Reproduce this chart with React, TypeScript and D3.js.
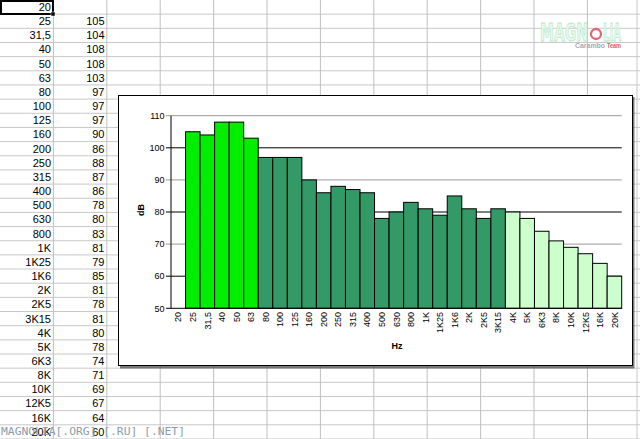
import React from "react";
import * as d3 from "d3";

const categories = ["20","25","31,5","40","50","63","80","100","125","160","200","250","315","400","500","630","800","1K","1K25","1K6","2K","2K5","3K15","4K","5K","6K3","8K","10K","12K5","16K","20K"];
const values: (number | null)[] = [null,105,104,108,108,103,97,97,97,90,86,88,87,86,78,80,83,81,79,85,81,78,81,80,78,74,71,69,67,64,60];
const groupOf = ["none","low","low","low","low","low","mid","mid","mid","mid","mid","mid","mid","mid","mid","mid","mid","mid","mid","mid","mid","mid","mid","high","high","high","high","high","high","high","high"];
const yTicks = [50,60,70,80,90,100,110];

const colors: Record<string, string> = { none: "#fff", low: "#00ee00", mid: "#339966", high: "#ccffcc" };

const W = 640, H = 439;
const rowH = 14.16;
const colW = 53.4;

export default function App() {
  const x = d3.scaleBand<string>().domain(categories).range([171, 621.7]).padding(0);
  const y = d3.scaleLinear().domain([50, 110]).range([308.3, 115.7]);
  const font = "Arial, 'Liberation Sans', sans-serif";

  const rowLines = d3.range(1, 32).map((k) => k * rowH);
  const colLines = d3.range(1, 12).map((k) => k * colW);

  return (
    <svg width={W} height={H} style={{ position: "absolute", left: 0, top: 0, background: "#fff" }} fontFamily={font}>
      <rect x={0} y={0} width={W} height={H} fill="#fff" />
      {/* spreadsheet grid */}
      {rowLines.map((ry, i) => (
        <line key={"r" + i} x1={0} x2={W} y1={ry} y2={ry} stroke="#c8c8c8" strokeWidth={1} />
      ))}
      {colLines.map((cx, i) => (
        <line key={"c" + i} x1={cx} x2={cx} y1={0} y2={H} stroke="#c0c0c0" strokeWidth={1} />
      ))}
      <line x1={637} x2={637} y1={0} y2={H} stroke="#c8c8c8" />
      {/* cell text */}
      {categories.map((c, i) => (
        <text key={"a" + i} x={51} y={i * rowH + 11} textAnchor="end" fontSize={11} fill="#000">{c}</text>
      ))}
      {values.map((v, i) => v == null ? null : (
        <text key={"b" + i} x={104.5} y={i * rowH + 11} textAnchor="end" fontSize={11} fill="#000">{v}</text>
      ))}
      {/* selected cell */}
      <rect x={1} y={1} width={52} height={13} fill="none" stroke="#000" strokeWidth={2} />
      <rect x={51} y={12} width={4} height={4} fill="#000" stroke="#fff" strokeWidth={0.5} />

      {/* logo */}
      <g>
        <text x={540} y={41} fontSize={24} fontWeight="bold" fill="#e6f8ec" stroke="#b8e8c8" strokeWidth={0.8} textLength={48} lengthAdjust="spacingAndGlyphs" fontFamily="'DejaVu Sans Condensed', Arial, sans-serif">MAGN</text>
        <circle cx={596} cy={34} r={5} fill="none" stroke="#e06878" strokeWidth={2.3} />
        <text x={603} y={41} fontSize={24} fontWeight="bold" fill="#e6f8ec" stroke="#b8e8c8" strokeWidth={0.8} textLength={18} lengthAdjust="spacingAndGlyphs" fontFamily="'DejaVu Sans Condensed', Arial, sans-serif">LIA</text>
        <text x={575} y={47.5} fontSize={7.5} fontWeight="bold" fill="#a8a8b4" textLength={30} lengthAdjust="spacingAndGlyphs">Carambo</text>
        <text x={607} y={47.5} fontSize={7.5} fontWeight="bold" fill="#e45868" textLength={14} lengthAdjust="spacingAndGlyphs">Team</text>
      </g>

      {/* chart box */}
      <rect x={120} y={97} width={514.5} height={271.5} fill="#444" opacity={0.7} />
      <rect x={118.5} y={95.5} width={514} height={270} fill="#fff" stroke="#000" strokeWidth={1} />

      {/* gridlines */}
      {yTicks.filter((t) => t > 50).map((t) => (
        <line key={"g" + t} x1={166} x2={621.7} y1={y(t)} y2={y(t)} stroke={t % 20 === 0 ? "#000" : "#999"} strokeWidth={1} />
      ))}
      {/* bars */}
      {categories.map((c, i) => {
        const v = values[i];
        if (v == null) return null;
        return (
          <rect key={"bar" + i} x={x(c)!} y={y(v)} width={x.bandwidth()} height={y(50) - y(v)} fill={colors[groupOf[i]]} stroke="#000" strokeWidth={1} />
        );
      })}
      {/* axes */}
      <line x1={171} x2={171} y1={y(110)} y2={y(50)} stroke="#000" />
      <line x1={166} x2={621.7} y1={y(50)} y2={y(50)} stroke="#000" />
      {yTicks.map((t) => (
        <text key={"yt" + t} x={164.5} y={y(t) + 3.2} textAnchor="end" fontSize={9} fill="#000">{t}</text>
      ))}
      {categories.map((c) => (
        <text key={"xt" + c} transform={`translate(${x(c)! + x.bandwidth() / 2 + 3.2},${312}) rotate(-90)`} textAnchor="end" fontSize={9} fill="#000">{c}</text>
      ))}
      <text transform="translate(143.5,210) rotate(-90)" textAnchor="middle" fontSize={9} fontWeight="bold" fill="#000">dB</text>
      <text x={397} y={349} textAnchor="middle" fontSize={9} fontWeight="bold" fill="#000">Hz</text>

      {/* watermark */}
      <text x={1} y={435} fontSize={11} fill="#8c9cac" fontFamily="'DejaVu Sans Mono', 'Liberation Mono', monospace" textLength={184} lengthAdjust="spacingAndGlyphs">MAGNOLIA[.ORG] [.RU] [.NET]</text>
    </svg>
  );
}
